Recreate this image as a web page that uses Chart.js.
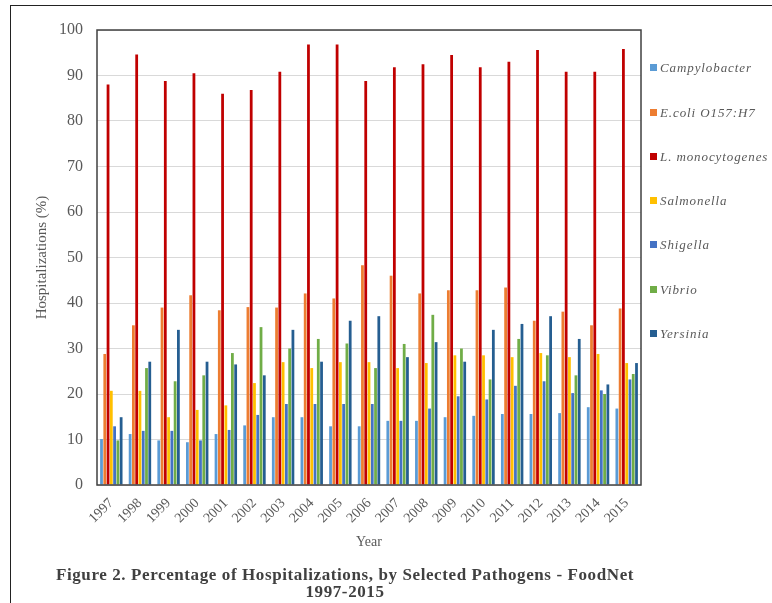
<!DOCTYPE html>
<html>
<head>
<meta charset="utf-8">
<script src="https://cdn.jsdelivr.net/npm/chart.js@4.4.1/dist/chart.umd.min.js"></script>
<style>
body { margin: 0; background: #fff; }
#wrap { position: relative; width: 772px; height: 603px; overflow: hidden; }
#frame { position: absolute; left: 10px; top: 5px; width: 820px; height: 700px; border-left: 1.5px solid #222; border-top: 1.5px solid #222; }
#chart { position: absolute; left: 0; top: 0; }
#legend { position: absolute; left: 0; top: 0; font: italic 13px "Liberation Serif", serif; color: #595959; letter-spacing: 0.9px; }
.item { position: absolute; left: 650px; white-space: nowrap; line-height: 14px; }
.item span { display: inline-block; width: 7px; height: 7px; margin-right: 3px; vertical-align: 1px; }
#caption { position: absolute; left: 0; width: 690px; top: 566px; text-align: center; font: bold 17px "Liberation Serif", serif; color: #404040; line-height: 17px; letter-spacing: 0.6px; }
</style>
</head>
<body>
<div id="wrap">
  <div id="frame"></div>
  <canvas id="chart" width="772" height="603"></canvas>
  <div id="legend"></div>
  <div id="caption">Figure 2. Percentage of Hospitalizations, by Selected Pathogens - FoodNet<br>1997-2015</div>
</div>
<script>
let years = ["1997","1998","1999","2000","2001","2002","2003","2004","2005","2006","2007","2008","2009","2010","2011","2012","2013","2014","2015"];

let campylobacter = [10.1, 11.2, 9.8, 9.4, 11.2, 13.1, 14.9, 14.9, 12.9, 12.9, 14.1, 14.1, 14.9, 15.2, 15.6, 15.6, 15.8, 17.1, 16.8];
let ecoli = [28.8, 35.1, 39, 41.7, 38.4, 39.1, 39, 42.1, 41, 48.3, 46, 42.1, 42.8, 42.8, 43.4, 36.1, 38.1, 35.1, 38.8];
let listeria = [88, 94.6, 88.8, 90.5, 86, 86.8, 90.8, 96.8, 96.8, 88.8, 91.8, 92.5, 94.5, 91.8, 93, 95.6, 90.8, 90.8, 95.8];
let salmonella = [20.7, 20.7, 14.9, 16.5, 17.5, 22.4, 27, 25.7, 27, 27, 25.7, 26.8, 28.5, 28.5, 28.1, 29, 28.1, 28.8, 26.8];
let shigella = [12.9, 11.9, 11.9, 9.8, 12.1, 15.4, 17.8, 17.8, 17.8, 17.8, 14.1, 16.8, 19.5, 18.8, 21.8, 22.8, 20.2, 20.8, 23.2];
let vibrio = [9.8, 25.7, 22.8, 24.1, 29, 34.7, 30, 32.1, 31.1, 25.7, 31, 37.4, 30, 23.2, 32.1, 28.5, 24.1, 20, 24.4];
let yersinia = [14.9, 27.1, 34.1, 27.1, 26.5, 24.1, 34.1, 27.1, 36.1, 37.1, 28.1, 31.4, 27.1, 34.1, 35.4, 37.1, 32.1, 22.1, 26.8];

let seriesNames = ["Campylobacter", "E.coli O157:H7", "L. monocytogenes", "Salmonella", "Shigella", "Vibrio", "Yersinia"];
let seriesValues = [campylobacter, ecoli, listeria, salmonella, shigella, vibrio, yersinia];
let seriesColors = ["#5B9BD5", "#ED7D31", "#C00000", "#FFC000", "#4472C4", "#70AD47", "#255E91"];

let datasets = [];
seriesNames.forEach(function (name, i) {
	datasets.push({
		label: name,
		data: seriesValues[i],
		backgroundColor: seriesColors[i],
		categoryPercentage: 0.8,
		barPercentage: 0.85
	});
});

// box round the plot area
const frameBox = {
	id: 'frameBox',
	afterDraw(chart) {
		const a = chart.chartArea;
		const ctx = chart.ctx;
		ctx.save();
		ctx.strokeStyle = '#404040';
		ctx.lineWidth = 1.5;
		ctx.strokeRect(a.left, a.top, a.right - a.left, a.bottom - a.top);
		ctx.restore();
	}
};

new Chart(document.getElementById("chart"), {
	type: 'bar',
	data: { labels: years, datasets: datasets },
	plugins: [frameBox],
	options: {
		responsive: false,
		animation: false,
		layout: { padding: { top: 30, right: 131, left: 0, bottom: 48 } },
		plugins: {
			legend: { display: false },
			tooltip: { enabled: false }
		},
		scales: {
			x: {
				grid: { display: false },
				border: { display: false },
				ticks: {
					color: '#595959',
					font: { family: 'Liberation Serif', size: 14 },
					minRotation: 45,
					maxRotation: 45,
					padding: 2
				},
				title: {
					display: true,
					text: 'Year',
					color: '#595959',
					font: { family: 'Liberation Serif', size: 14 },
					padding: { top: 4, bottom: 4 }
				},
				afterFit: function (scale) { scale.height = 70; }
			},
			y: {
				min: 0,
				max: 100,
				ticks: {
					stepSize: 10,
					color: '#595959',
					font: { family: 'Liberation Serif', size: 16 },
					padding: 14
				},
				grid: { color: '#d9d9d9', drawTicks: false },
				border: { display: false },
				title: {
					display: true,
					text: 'Hospitalizations (%)',
					color: '#595959',
					font: { family: 'Liberation Serif', size: 15 },
					padding: { top: 33, bottom: 0 }
				},
				afterFit: function (scale) { scale.width = 97; }
			}
		}
	}
});

// legend on the right
let legend = document.getElementById("legend");
let legendTops = [68, 113, 157, 201, 245, 290, 334];
seriesNames.forEach(function (name, i) {
	let item = document.createElement("div");
	item.className = "item";
	item.style.top = (legendTops[i] - 7) + "px";
	item.innerHTML = '<span style="background:' + seriesColors[i] + '"></span>' + name;
	legend.appendChild(item);
});
</script>
</body>
</html>
